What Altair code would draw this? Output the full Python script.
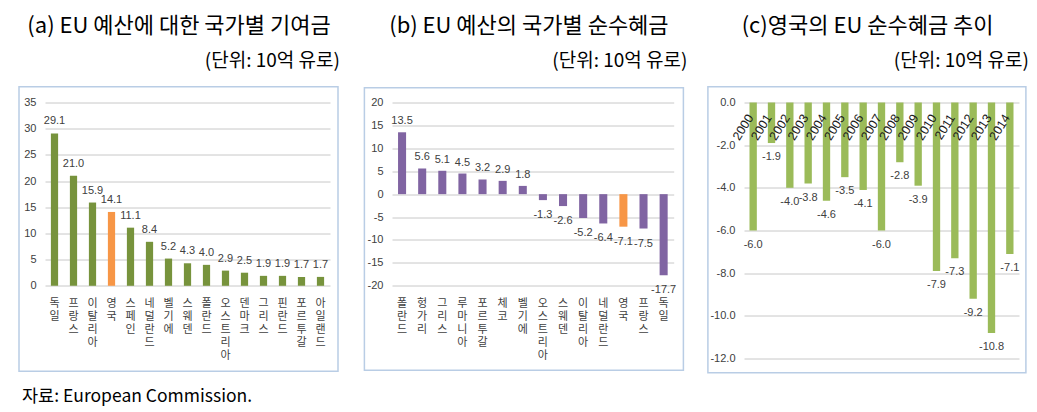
import altair as alt
import pandas as pd

# ---------------- data ----------------
countries_a = ["독일", "프랑스", "이탈리아", "영국", "스페인", "네덜란드", "벨기에", "스웨덴",
               "폴란드", "오스트리아", "덴마크", "그리스", "핀란드", "포르투갈", "아일랜드"]
values_a = [29.1, 21.0, 15.9, 14.1, 11.1, 8.4, 5.2, 4.3, 4.0, 2.9, 2.5, 1.9, 1.9, 1.7, 1.7]

countries_b = ["폴란드", "헝가리", "그리스", "루마니아", "포르투갈", "체코", "벨기에",
               "오스트리아", "스웨덴", "이탈리아", "네덜란드", "영국", "프랑스", "독일"]
values_b = [13.5, 5.6, 5.1, 4.5, 3.2, 2.9, 1.8, -1.3, -2.6, -5.2, -6.4, -7.1, -7.5, -17.7]

years_c = ["2000", "2001", "2002", "2003", "2004", "2005", "2006", "2007",
           "2008", "2009", "2010", "2011", "2012", "2013", "2014"]
values_c = [-6.0, -1.9, -4.0, -3.8, -4.6, -3.5, -4.1, -6.0, -2.8, -3.9, -7.9, -7.3, -9.2, -10.8, -7.1]

titles = ["(a) EU 예산에 대한 국가별 기여금", "(b) EU 예산의 국가별 순수혜금", "(c)영국의 EU 순수혜금 추이"]
unit_label = "(단위: 10억 유로)"
source_label = "자료: European Commission."
highlight = "영국"

ticks_a = [0, 5, 10, 15, 20, 25, 30, 35]
ticks_b = [-20, -15, -10, -5, 0, 5, 10, 15, 20]
ticks_c = [0, -2, -4, -6, -8, -10, -12]

# ---------------- style ----------------
KR = "Noto Sans CJK KR"
NUM = "Liberation Sans Narrow, Liberation Sans, Arial, sans-serif"
GREEN_A = "#77933C"
GREEN_C = "#9BBB59"
PURPLE = "#8064A2"
ORANGE = "#F79646"
BOX = "#B9CDE5"
GRID = "#C8C8C8"
TXT = "#404040"
MINUS = "\u2212"
LABEL_EXPR = f"replace(format(datum.value, '.1f'), '{MINUS}', '-')"
TITLE_Y = 24.5

df_a = pd.DataFrame({"country": countries_a, "value": values_a})
df_b = pd.DataFrame({"country": countries_b, "value": values_b})
df_c = pd.DataFrame({"year": years_c, "value": values_c})
one = pd.DataFrame({"k": [0]})
NOVIEW = alt.ViewBackground(stroke="transparent", strokeWidth=0, fill="transparent")


def box(ox, oy, left, top, right, bottom):
    return alt.Chart(one).mark_rect(fill="white", fillOpacity=0, stroke=BOX, strokeWidth=1.5).encode(
        x=alt.value(left - ox), x2=alt.value(right - ox),
        y=alt.value(top - oy), y2=alt.value(bottom - oy))


def text_at(txt, x, y, size, align, font=KR, color="black"):
    return alt.Chart(pd.DataFrame({"t": [txt]})).mark_text(
        font=font, fontSize=size, align=align, baseline="middle", color=color
    ).encode(x=alt.value(x), y=alt.value(y), text="t:N")


def kr_axis():
    return alt.Axis(title=None, labelAngle=0, labelExpr="split(datum.value, '')",
                    labelBaseline="top", labelAlign="center", labelLineHeight=13,
                    labelPadding=12, ticks=False, domain=False, grid=False,
                    labelFont=KR, labelFontSize=11, labelColor=TXT, labelOverlap=False)


def y_axis(vals, fmt=None):
    kw = dict(title=None, values=vals, grid=True, gridColor=GRID, gridWidth=1,
              domain=False, ticks=False, labelPadding=9, labelFont=NUM,
              labelFontSize=11, labelColor=TXT,
              labelExpr=f"replace(datum.label, '{MINUS}', '-')")
    if fmt:
        kw["format"] = fmt
    return alt.Axis(**kw)


def value_text(base, dy, size=11):
    return base.mark_text(font=NUM, fontSize=size, color=TXT, baseline="middle", dy=dy).encode(
        text="lab:N")


# ---------------- panel (a) ----------------
OXA, OYA, WA, HA = 45.0, 100.7, 285.0, 183.3
xa = alt.X("country:N", sort=countries_a,
           scale=alt.Scale(paddingInner=0.62, paddingOuter=0.31), axis=kr_axis())
ya = alt.Y("value:Q", scale=alt.Scale(domain=[0, 35], nice=False), axis=y_axis(ticks_a))
base_a = alt.Chart(df_a).transform_calculate(lab=LABEL_EXPR).encode(x=xa, y=ya)
bars_a = base_a.mark_bar().encode(
    color=alt.condition(alt.datum.country == highlight, alt.value(ORANGE), alt.value(GREEN_A)))
panel_a = alt.layer(
    box(OXA, OYA, 19, 85, 338, 369.5),
    bars_a, value_text(base_a, -12),
    text_at(titles[0], 179 - OXA, TITLE_Y - OYA, 22, "center"),
    text_at(unit_label, 340 - OXA, 59 - OYA, 19, "right"),
    text_at(source_label, 22 - OXA, 395 - OYA, 17.5, "left"),
).properties(width=WA, height=HA, view=NOVIEW)

# ---------------- panel (b) ----------------
OXB, OYB, WB, HB = 391.6, 100.7, 281.7, 183.3
xb = alt.X("country:N", sort=countries_b,
           scale=alt.Scale(paddingInner=0.6, paddingOuter=0.3), axis=kr_axis())
yb = alt.Y("value:Q", scale=alt.Scale(domain=[-20, 20], nice=False), axis=y_axis(ticks_b))
base_b = alt.Chart(df_b).transform_calculate(lab=LABEL_EXPR).encode(x=xb, y=yb)
bars_b = base_b.mark_bar().encode(
    color=alt.condition(alt.datum.country == highlight, alt.value(ORANGE), alt.value(PURPLE)))
panel_b = alt.layer(
    box(OXB, OYB, 364, 86, 683, 368.5),
    bars_b,
    value_text(base_b.transform_filter(alt.datum.value > 0), -11),
    value_text(base_b.transform_filter(alt.datum.value < 0), 15),
    text_at(titles[1], 528.5 - OXB, TITLE_Y - OYB, 22, "center"),
    text_at(unit_label, 687 - OXB, 59 - OYB, 19, "right"),
).properties(width=WB, height=HB, view=NOVIEW)

# ---------------- panel (c) ----------------
OXC, OYC, WC, HC = 743.1, 100.7, 275.0, 256.0
xc = alt.X("year:N", sort=years_c,
           scale=alt.Scale(paddingInner=0.6, paddingOuter=0.3), axis=None)
yc = alt.Y("value:Q", scale=alt.Scale(domain=[-12, 0], nice=False),
           axis=y_axis(ticks_c, ".1f"))
base_c = alt.Chart(df_c).transform_calculate(lab=LABEL_EXPR).encode(x=xc)
bars_c = base_c.mark_bar(color=GREEN_C).encode(y=yc)
lab_c = value_text(base_c.encode(y=alt.Y("value:Q")), 14)
years_lab = base_c.mark_text(font=NUM, fontSize=12.5, color="#1A1A1A", angle=302,
                             align="right", baseline="middle").encode(
    y=alt.value(13), xOffset=alt.value(1), text="year:N")
panel_c = alt.layer(
    box(OXC, OYC, 707, 85, 1025, 371),
    bars_c, lab_c, years_lab,
    text_at(titles[2], 866.7 - OXC, TITLE_Y - OYC, 22, "center"),
    text_at(unit_label, 1028 - OXC, 59 - OYC, 19, "right"),
).properties(width=WC, height=HC, view=NOVIEW)


def spacer(w):
    return alt.Chart(one).mark_rect(opacity=0).encode(
        x=alt.value(0), x2=alt.value(1), y=alt.value(0), y2=alt.value(1)
    ).properties(width=w, height=1, view=NOVIEW)


chart = alt.hconcat(
    panel_a, spacer(OXB - OXA - WA), panel_b, spacer(OXC - OXB - WB), panel_c,
    spacing=0, bounds="flush"
).properties(
    padding={"left": 10, "top": 6.5, "right": 0, "bottom": 0}
).configure_view(stroke="transparent", strokeWidth=0).configure(background="white")

chart.save("out.html", embed_options={"renderer": "svg", "actions": False})
